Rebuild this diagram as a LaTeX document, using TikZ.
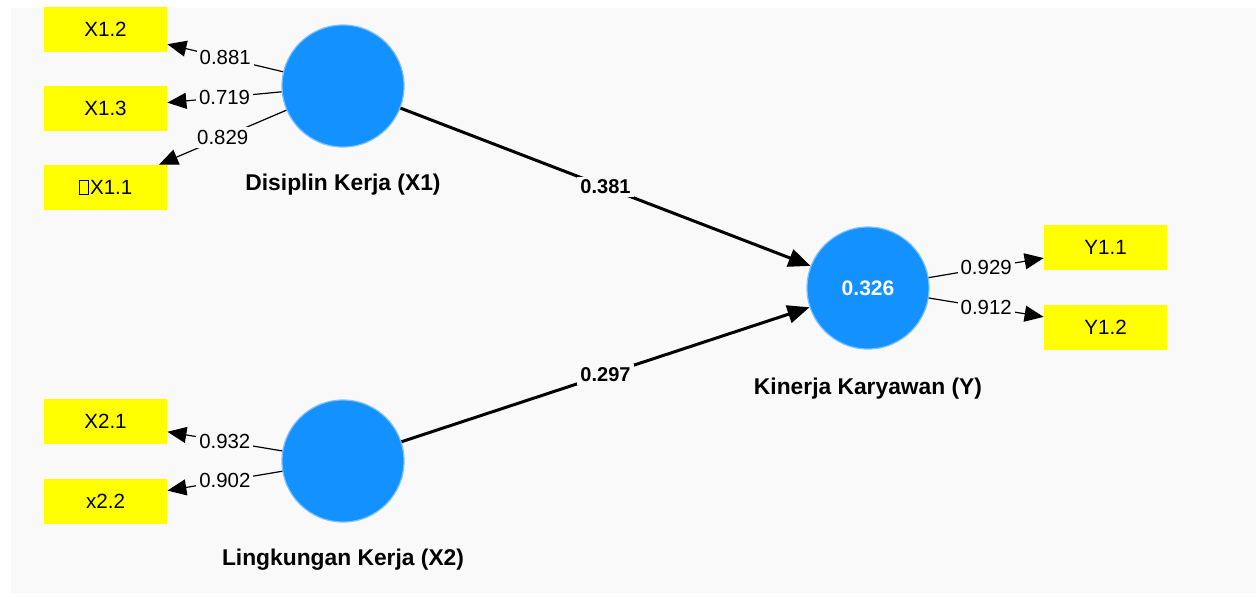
\documentclass[tikz,border=0pt]{standalone}
\usepackage{fontspec}
\setmainfont{Liberation Sans}
\usetikzlibrary{arrows.meta,positioning}

\definecolor{bgback}{RGB}{249,249,249}
\definecolor{lvblue}{RGB}{19,145,255}
\definecolor{lvedge}{RGB}{125,192,255}
\definecolor{mvyellow}{RGB}{255,255,0}

% empty glyph box in front of the first item
\newcommand{\tofubox}{{\fboxsep=0pt\fboxrule=0.4pt\fbox{\rule{0pt}{6.5pt}\hspace{4.3pt}}}\hspace{0.6pt}}

\begin{document}
\begin{tikzpicture}[x=0.5pt,y=-0.5pt,
    latent/.style={circle,fill=lvblue,draw=lvedge,line width=0.6pt,minimum size=61pt,inner sep=0pt,
        text=white,font=\fontsize{10.5}{12}\selectfont\bfseries},
    indicator/.style={rectangle,fill=mvyellow,minimum width=61.5pt,minimum height=22.5pt,inner sep=0pt,
        font=\fontsize{10.3}{12}\selectfont},
    latname/.style={inner sep=0pt,font=\fontsize{11.4}{13}\selectfont\bfseries},
    loading/.style={-{Triangle[length=9.5pt,width=8pt]},line width=0.6pt},
    pathcoef/.style={-{Triangle[length=11pt,width=9pt]},line width=1.5pt},
    weight/.style={fill=bgback,inner sep=1.5pt,font=\fontsize{10.2}{12}\selectfont},
    coef/.style={fill=bgback,inner sep=1.5pt,font=\fontsize{10}{12}\selectfont\bfseries}]

    \useasboundingbox (0,0) rectangle (1256,596);
    \fill[white] (0,0) rectangle (1256,596);
    \fill[bgback] (11,8) rectangle (1256,593);

    % latent variables
    \node[latent] (x1) at (343,86) {};
    \node[latent] (x2) at (343,461) {};
    \node[latent] (y) at (868,288) {0.326};

    \node[latname, below=13pt of x1] (x1name) {Disiplin Kerja (X1)};
    \node[latname, below=13pt of x2] (x2name) {Lingkungan Kerja (X2)};
    \node[latname, below=14pt of y] (yname) {Kinerja Karyawan (Y)};

    % indicators
    \node[indicator] (x12) at (105.5,29.5) {X1.2};
    \node[indicator] (x13) at (105.5,108.5) {X1.3};
    \node[indicator] (x11) at (105.5,187.5) {\tofubox X1.1};
    \node[indicator] (x21) at (105.5,421.5) {X2.1};
    \node[indicator] (x22) at (105.5,501) {x2.2};
    \node[indicator] (y11) at (1105.5,247.5) {Y1.1};
    \node[indicator] (y12) at (1105.5,327) {Y1.2};

    % outer loadings
    \draw[loading] (x1) -- node[weight]{0.881} (x12);
    \draw[loading] (x1) -- node[weight]{0.719} (x13);
    \draw[loading] (x1) -- node[weight]{0.829} (x11);
    \draw[loading] (x2) -- node[weight]{0.932} (x21);
    \draw[loading] (x2) -- node[weight]{0.902} (x22);
    \draw[loading] (y) -- node[weight]{0.929} (y11);
    \draw[loading] (y) -- node[weight]{0.912} (y12);

    % path coefficients
    \draw[pathcoef] (x1) -- node[coef]{0.381} (y);
    \draw[pathcoef] (x2) -- node[coef]{0.297} (y);
\end{tikzpicture}
\end{document}
